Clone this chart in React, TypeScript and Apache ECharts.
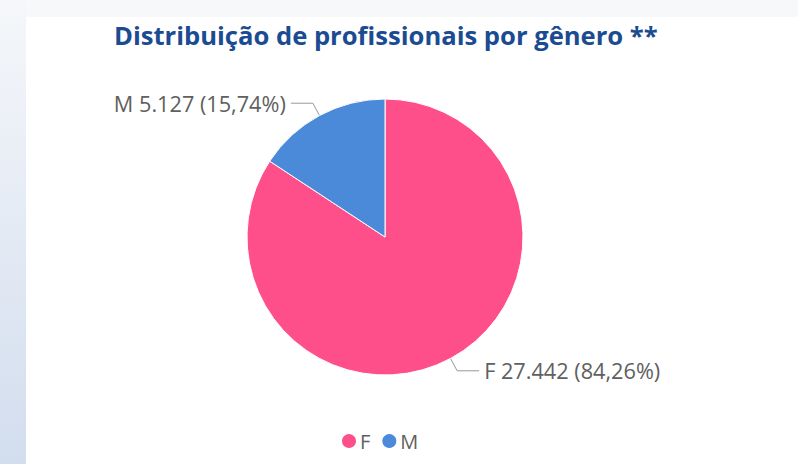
import React, { useEffect, useRef } from "react";
import * as echarts from "echarts";

const categories = ["F", "M"];
const values = [27442, 5127];
const percentLabels = ["84,26%", "15,74%"];
const valueLabels = ["27.442", "5.127"];
const colors = ["#ff4f8b", "#4a8ad9"];

export default function App() {
  const ref = useRef<HTMLDivElement>(null);
  useEffect(() => {
    document.body.style.margin = "0";
    const chart = echarts.init(ref.current!, null, { renderer: "svg" });
    chart.setOption({
      animation: false,
      backgroundColor: "#ffffff",
      graphic: [
        { type: "rect", shape: { x: 0, y: 0, width: 798, height: 17 }, style: { fill: "#f7f8fa" }, silent: true, z: -10 },
        {
          type: "rect",
          shape: { x: 0, y: 0, width: 26, height: 464 },
          style: {
            fill: new echarts.graphic.LinearGradient(0, 0, 0, 1, [
              { offset: 0, color: "#f5f7fa" },
              { offset: 1, color: "#d2ddee" },
            ]),
          },
          silent: true,
          z: -10,
        },
      ],
      title: {
        text: "Distribuição de profissionais por gênero **",
        left: 109,
        top: 17,
        textStyle: { fontFamily: "Open Sans", fontWeight: "bold", fontSize: 25.6, color: "#1b4b91" },
      },
      legend: {
        data: categories,
        top: 426,
        left: 335,
        icon: "circle",
        itemWidth: 16,
        itemHeight: 16,
        itemGap: 10,
        textStyle: { fontFamily: "Open Sans", fontSize: 20, color: "#606060", padding: [0, 0, 0, -2] },
      },
      series: [
        {
          type: "pie",
          center: [385, 237],
          radius: 138,
          startAngle: 90,
          clockwise: true,
          itemStyle: { borderColor: "#ffffff", borderWidth: 1 },
          label: {
            fontFamily: "Open Sans",
            fontSize: 21.7,
            color: "#606060",
            formatter: (p: any) => `${p.name} ${valueLabels[p.dataIndex]} (${percentLabels[p.dataIndex]})`,
          },
          labelLine: { length: 14, length2: 22, lineStyle: { color: "#999999" } },
          data: categories.map((c, i) => ({ name: c, value: values[i], itemStyle: { color: colors[i] } })),
        },
      ],
    });
    return () => chart.dispose();
  }, []);
  return <div ref={ref} style={{ width: 798, height: 464 }} />;
}
